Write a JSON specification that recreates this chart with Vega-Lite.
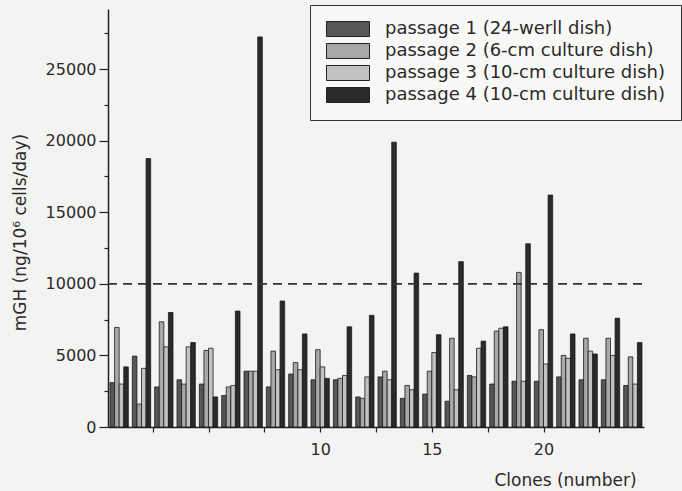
{
  "$schema": "https://vega.github.io/schema/vega-lite/v6.json",
  "width": 536,
  "height": 418,
  "autosize": "none",
  "padding": {"left": 108, "top": 9, "right": 38, "bottom": 64},
  "background": "#f3f3f1",
  "config": {
    "view": {"stroke": null, "fill": "#f3f3f1"},
    "font": "DejaVu Sans",
    "axis": {"grid": false, "domainColor": "#222222", "tickColor": "#222222", "labelColor": "#2a2a2a", "titleColor": "#2a2a2a", "labelFont": "DejaVu Sans", "titleFont": "DejaVu Sans", "titleFontWeight": "normal"}
  },
  "data": {"values": [
    {"clone": 1, "passage": 1, "mGH": 3100}, {"clone": 1, "passage": 2, "mGH": 6950}, {"clone": 1, "passage": 3, "mGH": 3000}, {"clone": 1, "passage": 4, "mGH": 4200},
    {"clone": 2, "passage": 1, "mGH": 4950}, {"clone": 2, "passage": 2, "mGH": 1600}, {"clone": 2, "passage": 3, "mGH": 4100}, {"clone": 2, "passage": 4, "mGH": 18750},
    {"clone": 3, "passage": 1, "mGH": 2800}, {"clone": 3, "passage": 2, "mGH": 7350}, {"clone": 3, "passage": 3, "mGH": 5600}, {"clone": 3, "passage": 4, "mGH": 8000},
    {"clone": 4, "passage": 1, "mGH": 3300}, {"clone": 4, "passage": 2, "mGH": 3000}, {"clone": 4, "passage": 3, "mGH": 5600}, {"clone": 4, "passage": 4, "mGH": 5900},
    {"clone": 5, "passage": 1, "mGH": 3000}, {"clone": 5, "passage": 2, "mGH": 5350}, {"clone": 5, "passage": 3, "mGH": 5500}, {"clone": 5, "passage": 4, "mGH": 2100},
    {"clone": 6, "passage": 1, "mGH": 2200}, {"clone": 6, "passage": 2, "mGH": 2800}, {"clone": 6, "passage": 3, "mGH": 2900}, {"clone": 6, "passage": 4, "mGH": 8100},
    {"clone": 7, "passage": 1, "mGH": 3900}, {"clone": 7, "passage": 2, "mGH": 3900}, {"clone": 7, "passage": 3, "mGH": 3900}, {"clone": 7, "passage": 4, "mGH": 27250},
    {"clone": 8, "passage": 1, "mGH": 2800}, {"clone": 8, "passage": 2, "mGH": 5300}, {"clone": 8, "passage": 3, "mGH": 4000}, {"clone": 8, "passage": 4, "mGH": 8800},
    {"clone": 9, "passage": 1, "mGH": 3700}, {"clone": 9, "passage": 2, "mGH": 4500}, {"clone": 9, "passage": 3, "mGH": 4000}, {"clone": 9, "passage": 4, "mGH": 6500},
    {"clone": 10, "passage": 1, "mGH": 3300}, {"clone": 10, "passage": 2, "mGH": 5400}, {"clone": 10, "passage": 3, "mGH": 4200}, {"clone": 10, "passage": 4, "mGH": 3400},
    {"clone": 11, "passage": 1, "mGH": 3300}, {"clone": 11, "passage": 2, "mGH": 3400}, {"clone": 11, "passage": 3, "mGH": 3600}, {"clone": 11, "passage": 4, "mGH": 7000},
    {"clone": 12, "passage": 1, "mGH": 2100}, {"clone": 12, "passage": 2, "mGH": 2000}, {"clone": 12, "passage": 3, "mGH": 3500}, {"clone": 12, "passage": 4, "mGH": 7800},
    {"clone": 13, "passage": 1, "mGH": 3500}, {"clone": 13, "passage": 2, "mGH": 3900}, {"clone": 13, "passage": 3, "mGH": 3300}, {"clone": 13, "passage": 4, "mGH": 19900},
    {"clone": 14, "passage": 1, "mGH": 2000}, {"clone": 14, "passage": 2, "mGH": 2900}, {"clone": 14, "passage": 3, "mGH": 2600}, {"clone": 14, "passage": 4, "mGH": 10750},
    {"clone": 15, "passage": 1, "mGH": 2300}, {"clone": 15, "passage": 2, "mGH": 3900}, {"clone": 15, "passage": 3, "mGH": 5200}, {"clone": 15, "passage": 4, "mGH": 6450},
    {"clone": 16, "passage": 1, "mGH": 1800}, {"clone": 16, "passage": 2, "mGH": 6200}, {"clone": 16, "passage": 3, "mGH": 2600}, {"clone": 16, "passage": 4, "mGH": 11550},
    {"clone": 17, "passage": 1, "mGH": 3600}, {"clone": 17, "passage": 2, "mGH": 3500}, {"clone": 17, "passage": 3, "mGH": 5500}, {"clone": 17, "passage": 4, "mGH": 6000},
    {"clone": 18, "passage": 1, "mGH": 3000}, {"clone": 18, "passage": 2, "mGH": 6700}, {"clone": 18, "passage": 3, "mGH": 6900}, {"clone": 18, "passage": 4, "mGH": 7000},
    {"clone": 19, "passage": 1, "mGH": 3200}, {"clone": 19, "passage": 2, "mGH": 10800}, {"clone": 19, "passage": 3, "mGH": 3200}, {"clone": 19, "passage": 4, "mGH": 12800},
    {"clone": 20, "passage": 1, "mGH": 3200}, {"clone": 20, "passage": 2, "mGH": 6800}, {"clone": 20, "passage": 3, "mGH": 4400}, {"clone": 20, "passage": 4, "mGH": 16200},
    {"clone": 21, "passage": 1, "mGH": 3500}, {"clone": 21, "passage": 2, "mGH": 5000}, {"clone": 21, "passage": 3, "mGH": 4800}, {"clone": 21, "passage": 4, "mGH": 6500},
    {"clone": 22, "passage": 1, "mGH": 3300}, {"clone": 22, "passage": 2, "mGH": 6200}, {"clone": 22, "passage": 3, "mGH": 5300}, {"clone": 22, "passage": 4, "mGH": 5100},
    {"clone": 23, "passage": 1, "mGH": 3300}, {"clone": 23, "passage": 2, "mGH": 6200}, {"clone": 23, "passage": 3, "mGH": 5000}, {"clone": 23, "passage": 4, "mGH": 7600},
    {"clone": 24, "passage": 1, "mGH": 2900}, {"clone": 24, "passage": 2, "mGH": 4900}, {"clone": 24, "passage": 3, "mGH": 3000}, {"clone": 24, "passage": 4, "mGH": 5900}
  ]},
  "layer": [
    {
      "mark": {"type": "bar", "stroke": "#1a1a1a", "strokeWidth": 0.8},
      "encoding": {
        "x": {"field": "clone", "type": "ordinal", "scale": {"paddingInner": 0.18, "paddingOuter": 0.09}, "axis": null},
        "xOffset": {"field": "passage", "type": "nominal", "scale": {"domain": [1, 2, 3, 4]}},
        "y": {
          "field": "mGH", "type": "quantitative",
          "scale": {"domain": [0, 29200], "nice": false},
          "axis": {
            "orient": "left", "values": [0, 5000, 10000, 15000, 20000, 25000], "format": "d",
            "tickSize": 9, "tickWidth": 1.2, "labelPadding": 3, "labelFontSize": 16,
            "domainWidth": 1.5,
            "title": "mGH (ng/10⁶ cells/day)", "titleFontSize": 17,
            "titleAngle": -90, "titleX": -88, "titleY": 223, "titleAlign": "center", "titleBaseline": "middle"
          }
        },
        "color": {
          "field": "passage", "type": "nominal",
          "scale": {"domain": [1, 2, 3, 4], "range": ["#575757", "#a8a8a8", "#c2c2c2", "#2a2a2a"]},
          "legend": {
            "orient": "none", "legendX": 202, "legendY": -4, "title": null,
            "symbolType": "M-2.867,-1H2.867V1H-2.867Z", "symbolSize": 225,
            "symbolOffset": 14,
            "symbolStrokeColor": "#222222", "symbolStrokeWidth": 1, "symbolOpacity": 1,
            "labelFontSize": 18, "labelFont": "DejaVu Sans", "labelColor": "#2a2a2a",
            "labelOffset": 28, "labelLimit": 0, "rowPadding": 2, "padding": 15,
            "strokeColor": "#333333", "fillColor": "#f8f8f6",
            "labelExpr": "['passage 1 (24-werll dish)', 'passage 2 (6-cm culture dish)', 'passage 3 (10-cm culture dish)', 'passage 4 (10-cm culture dish)'][datum.value - 1]"
          }
        }
      }
    },
    {
      "data": {"values": [{"threshold": 10000}]},
      "mark": {"type": "rule", "strokeDash": [9, 6], "strokeWidth": 1.6, "color": "#333333"},
      "encoding": {
        "y": {
          "field": "threshold", "type": "quantitative",
          "scale": {"domain": [0, 29200], "nice": false},
          "axis": {"orient": "left", "values": [2500, 7500, 12500, 17500, 22500, 27500], "labels": false, "domain": false, "tickSize": 4, "tickWidth": 1.2, "title": null}
        },
        "x": {
          "datum": 0.5, "type": "quantitative",
          "scale": {"domain": [0.5, 24.5], "nice": false, "zero": false},
          "axis": {
            "orient": "bottom", "values": [2.5, 5, 7.5, 10, 12.5, 15, 17.5, 20, 22.5],
            "labelExpr": "(datum.value == 10 || datum.value == 15 || datum.value == 20) ? datum.value : ''",
            "tickSize": 5, "tickWidth": 1.2, "labelPadding": 9, "labelFontSize": 16, "domainWidth": 1.5,
            "title": "Clones (number)", "titleFontSize": 17,
            "titleX": 457, "titleY": 58, "titleAlign": "center", "titleBaseline": "alphabetic"
          }
        },
        "x2": {"datum": 24.5}
      }
    }
  ],
  "resolve": {"scale": {"x": "independent"}, "axis": {"x": "independent", "y": "independent"}}
}
